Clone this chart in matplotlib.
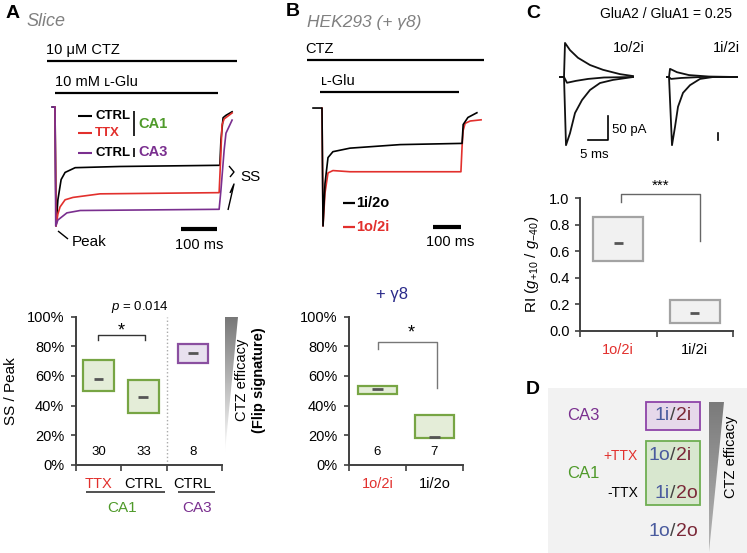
import numpy as np
import matplotlib
matplotlib.use("Agg")
import matplotlib.pyplot as plt
from matplotlib.patches import Polygon, Rectangle

W, H = 747, 553
plt.rcParams['font.family'] = ['Liberation Sans', 'DejaVu Sans']
plt.rcParams['mathtext.fontset'] = 'custom'
plt.rcParams['mathtext.it'] = 'Liberation Sans:italic'
plt.rcParams['mathtext.rm'] = 'Liberation Sans'

RED = '#e2302d'
GREEN = '#4f9a2a'
PURPLE = '#7a2f8f'
GREY_T = '#808080'
AX = '#404040'

# ---------------- data ----------------
# panel A traces: time (ms), current normalised to peak
a_ctrl_t = [-8, 0, 3, 8, 17, 28, 56, 180, 458, 461, 467, 475, 492]
a_ctrl_i = [0, 0, -1.0, -0.78, -0.61, -0.55, -0.51, -0.50, -0.49, -0.28, -0.09, -0.07, -0.04]
a_ttx_t = [0, 3, 8, 14, 28, 50, 125, 456, 460, 464, 470, 492]
a_ttx_i = [0, -1.0, -0.90, -0.84, -0.78, -0.76, -0.73, -0.72, -0.45, -0.15, -0.10, -0.05]
a_ca3_t = [-8, 0, 2, 8, 33, 70, 456, 461, 470, 475, 492]
a_ca3_i = [0, 0, -1.0, -0.95, -0.89, -0.87, -0.86, -0.70, -0.36, -0.22, -0.11]

# panel B traces
b_1i2o_t = [-32, 0, 3.6, 10.7, 21.4, 39, 100, 279, 493, 500, 504, 521, 553]
b_1i2o_i = [0, 0, -1.0, -0.64, -0.42, -0.37, -0.34, -0.31, -0.30, -0.30, -0.14, -0.08, -0.04]
b_1o2i_t = [0, 3.6, 10.7, 21.4, 39, 100, 496, 500, 504, 511, 529, 568]
b_1o2i_i = [0, -1.0, -0.72, -0.55, -0.53, -0.54, -0.54, -0.33, -0.19, -0.13, -0.11, -0.10]

# panel C traces: time (ms), current (pA)
c_l_up_t = [-1, 0, 0.25, 1.5, 3.5, 6.5, 9.75, 14, 17.25]
c_l_up_i = [0, 0, 71, 56, 40, 25, 15, 6, 2]
c_l_dn_t = [-1, 0, 0.5, 1.5, 2.75, 4.5, 6.5, 9, 12.25, 17.25]
c_l_dn_i = [0, 0, -142, -117, -75, -48, -27, -12.5, -6, 0]
c_l_mid_t = [-1, 0, 0.75, 3, 6, 10, 17.25]
c_l_mid_i = [0, 0, -12, -8, -4, -1, 0]
c_r_dn_t = [-0.5, 0, 0.75, 1.5, 2.25, 3.5, 5.25, 7.75, 11, 17]
c_r_dn_i = [0, 0, -142, -104, -62, -33, -17, -4, 0, 0]
c_r_up_t = [-0.5, 0, 0.25, 2, 5, 10, 17]
c_r_up_i = [0, 0, 17, 10, 4, 1, 0]
c_r_mid_t = [-0.5, 0, 0.5, 3, 8, 17]
c_r_mid_i = [0, 0, -4, -2, 0, 0]

# box summaries: low, high, mean
a_cats = ['TTX', 'CTRL', 'CTRL']
a_lo = [49.5, 35, 69]
a_hi = [70.5, 57, 81.5]
a_mean = [58, 46, 75.5]
a_n = [30, 33, 8]
b_cats = ['1o/2i', '1i/2o']
b_lo = [47.5, 18.5]
b_hi = [53.5, 34]
b_mean = [51.5, 19]
b_n = [6, 7]
c_cats = ['1o/2i', '1i/2i']
c_lo = [0.53, 0.063]
c_hi = [0.857, 0.233]
c_mean = [0.66, 0.138]

fig = plt.figure(figsize=(W / 100, H / 100), dpi=100)
ov = fig.add_axes([0, 0, 1, 1])
ov.set_xlim(0, W)
ov.set_ylim(H, 0)
ov.axis('off')


def pax(x0, y0, x1, y1):
    a = fig.add_axes([x0 / W, 1 - y1 / H, (x1 - x0) / W, (y1 - y0) / H])
    a.set_facecolor('none')
    return a


def line(pts, **kw):
    kw.setdefault('color', 'black')
    kw.setdefault('lw', 1.0)
    ov.plot([p[0] for p in pts], [p[1] for p in pts], solid_capstyle='butt', **kw)


def txt(x, y, s, **kw):
    kw.setdefault('ha', 'left')
    kw.setdefault('va', 'center')
    kw.setdefault('fontsize', 10.5)
    ov.text(x, y, s, **kw)


def grad_tri(pts, c0, c1):
    xs = [p[0] for p in pts]
    ys = [p[1] for p in pts]
    g = np.linspace(0, 1, 256)[:, None]
    c0 = np.array(matplotlib.colors.to_rgb(c0))
    c1 = np.array(matplotlib.colors.to_rgb(c1))
    img = c0[None, None, :] * (1 - g[:, :, None]) + c1[None, None, :] * g[:, :, None]
    im = ov.imshow(img, extent=(min(xs), max(xs), max(ys), min(ys)), aspect='auto',
                   interpolation='bilinear', zorder=1)
    poly = Polygon(pts, closed=True, transform=ov.transData, fc='none', ec='none')
    ov.add_patch(poly)
    im.set_clip_path(poly)


# ---------------- panel A ----------------
txt(6, 13, 'A', fontsize=14, fontweight='bold')
txt(26, 21, 'Slice', fontsize=13, style='italic', color=GREY_T)
txt(46, 50, '10 μM CTZ')
line([(47, 61), (237, 61)], lw=1.6)
txt(55, 82, '10 mM ʟ-Glu')
line([(55, 93), (218, 93)], lw=1.6)

ta = pax(45, 100, 240, 235)
ta.plot(a_ctrl_t, a_ctrl_i, color='black', lw=1.2)
ta.plot(a_ttx_t, a_ttx_i, color=RED, lw=1.2)
ta.plot(a_ca3_t, a_ca3_i, color=PURPLE, lw=1.2)
ta.plot([350, 450], [-1.025, -1.025], color='black', lw=3, solid_capstyle='butt')
ta.set_xlim(-27.8, 514)
ta.set_ylim(-1.076, 0.059)
ta.axis('off')

line([(78, 116), (92, 116)], lw=1.5)
txt(95, 116, 'CTRL', fontsize=9.5, fontweight='bold')
line([(78, 133), (92, 133)], lw=1.5, color=RED)
txt(95, 133, 'TTX', fontsize=9.5, fontweight='bold', color=RED)
line([(78, 153), (92, 153)], lw=1.5, color=PURPLE)
txt(95, 153, 'CTRL', fontsize=9.5, fontweight='bold')
line([(134, 111), (134, 136)], lw=1.2)
line([(134, 148), (134, 157)], lw=1.2)
txt(138, 124, 'CA1', fontsize=10.5, fontweight='bold', color=GREEN)
txt(138, 152, 'CA3', fontsize=10.5, fontweight='bold', color=PURPLE)

line([(229, 166), (234, 172), (230, 177)], lw=1.0)
line([(228, 210), (234, 184), (230, 193)], lw=1.0)
txt(240, 177, 'SS', fontsize=11)
line([(58, 231), (68, 239)], lw=1.0)
txt(72, 242, 'Peak', fontsize=11)
txt(199, 245, '100 ms', ha='center')

# A summary
xa = [0.5, 1.5, 2.6]
ba = pax(76, 316.5, 222, 465)
ba.bar(xa, np.subtract(a_hi, a_lo), bottom=a_lo, width=0.68,
       color=['#e4edd8', '#e4edd8', '#e8e1ef'],
       edgecolor=['#77a544', '#77a544', '#8a4fa0'], linewidth=1.6, zorder=2)
ba.hlines(a_mean, np.subtract(xa, 0.11), np.add(xa, 0.11), color='#555555', lw=2, zorder=3)
for x, n in zip(xa, a_n):
    ba.text(x, 9, str(n), ha='center', va='center', fontsize=9.5)
ba.axvline(2.02, ls=':', color='#aaaaaa', lw=1)
ba.plot([0.49, 0.49, 1.53, 1.53], [84, 87.5, 87.5, 84], color='#333333', lw=1)
ba.text(1.0, 90, '*', ha='center', va='center', fontsize=13)
ba.text(1.42, 106.5, r'$p$ = 0.014', ha='center', va='center', fontsize=9.5, clip_on=False)
ba.set_xlim(0, 3.25)
ba.set_ylim(0, 100)

# ---------------- panel B ----------------
txt(286, 12, 'B', fontsize=14, fontweight='bold')
txt(307, 22, 'HEK293 (+ γ8)', fontsize=12.5, style='italic', color=GREY_T)
txt(305, 49, 'CTZ')
line([(307, 60), (484, 60)], lw=1.6)
txt(321, 81, 'ʟ-Glu')
line([(320, 92), (459, 92)], lw=1.6)

tb = pax(305, 100, 490, 235)
tb.plot(b_1o2i_t, b_1o2i_i, color=RED, lw=1.2)
tb.plot(b_1i2o_t, b_1i2o_i, color='black', lw=1.2)
tb.plot([396, 496], [-1.008, -1.008], color='black', lw=3, solid_capstyle='butt')
tb.set_xlim(-60.7, 599.8)
tb.set_ylim(-1.076, 0.068)
tb.axis('off')

line([(343, 203), (355, 203)], lw=1.6)
txt(356, 203, '1i/2o', fontsize=10.5, fontweight='bold')
line([(343, 227), (355, 227)], lw=1.6, color=RED)
txt(356, 227, '1o/2i', fontsize=10.5, fontweight='bold', color=RED)
txt(450, 242, '100 ms', ha='center')
txt(392, 295, '+ γ8', ha='center', fontsize=12, color='#2a2a8a')

xb = [0.5, 1.5]
bb = pax(349, 316.5, 463, 465)
bb.bar(xb, np.subtract(b_hi, b_lo), bottom=b_lo, width=0.67, color='#e4edd8',
       edgecolor='#77a544', linewidth=1.6, zorder=2)
bb.hlines(b_mean, np.subtract(xb, 0.09), np.add(xb, 0.09), color='#555555', lw=2, zorder=3)
for x, n in zip(xb, b_n):
    bb.text(x, 9, str(n), ha='center', va='center', fontsize=9.5)
bb.plot([0.51, 0.51, 1.54, 1.54], [78, 83, 83, 52], color='#777777', lw=1)
bb.text(1.09, 89, '*', ha='center', va='center', fontsize=13)
bb.set_xlim(0, 2)
bb.set_ylim(0, 100)

# ---------------- panel C ----------------
txt(526, 14, 'C', fontsize=14, fontweight='bold')
txt(600, 14, 'GluA2 / GluA1 = 0.25', fontsize=10)
txt(613, 48, '1o/2i', fontsize=10.5)
txt(713, 48, '1i/2i', fontsize=10.5)

tcl = pax(555, 35, 640, 150)
for t, i in [(c_l_up_t, c_l_up_i), (c_l_dn_t, c_l_dn_i), (c_l_mid_t, c_l_mid_i)]:
    tcl.plot(t, i, color='#111111', lw=1.3)
tcl.plot([6, 11, 11], [-131, -131, -81], color='black', lw=1.2)
tcl.set_xlim(-2.25, 19)
tcl.set_ylim(-152, 87.5)
tcl.axis('off')

tcr = pax(662, 35, 742, 150)
for t, i in [(c_r_up_t, c_r_up_i), (c_r_dn_t, c_r_dn_i), (c_r_mid_t, c_r_mid_i)]:
    tcr.plot(t, i, color='#111111', lw=1.3)
tcr.plot([12.25, 12.25], [-131, -117], color='black', lw=1.2)
tcr.set_xlim(-1.75, 18.25)
tcr.set_ylim(-152, 87.5)
tcr.axis('off')
txt(612, 130, '50 pA', fontsize=9.5)
txt(594, 155, '5 ms', fontsize=9.5, ha='center')

xc = [0.5, 1.5]
bc = pax(580, 198, 733, 331)
bc.bar(xc, np.subtract(c_hi, c_lo), bottom=c_lo, width=0.65, color='#f1f1f1',
       edgecolor='#a3a3a3', linewidth=1.6, zorder=2)
bc.hlines(c_mean, np.subtract(xc, 0.06), np.add(xc, 0.06), color='#555555', lw=2, zorder=3)
bc.plot([0.54, 0.54, 1.57, 1.57], [0.97, 1.03, 1.03, 0.68], color='#666666', lw=1,
        clip_on=False)
bc.text(1.05, 1.09, '***', ha='center', va='center', fontsize=11, clip_on=False)
bc.set_xlim(0, 2)
bc.set_ylim(0, 1)
bc.set_ylabel(r'RI ($g_{+10}$ / $g_{-40}$)', fontsize=11, labelpad=6)

# axis styling for the three summaries
for ax, ticks, cats, cents, cols in [
        (ba, [0, 1, 2.02, 3.25], a_cats, xa, [RED, 'black', 'black']),
        (bb, [0, 1, 2], b_cats, xb, [RED, 'black']),
        (bc, [0, 1, 2], c_cats, xc, [RED, 'black'])]:
    for s in ['top', 'right']:
        ax.spines[s].set_visible(False)
    for s in ['left', 'bottom']:
        ax.spines[s].set_color(AX)
        ax.spines[s].set_linewidth(1.4)
    ax.set_xticks(ticks)
    ax.set_xticklabels([])
    ax.set_xticks(cents, labels=cats, minor=True)
    ax.tick_params(axis='x', which='major', length=4, width=1.2, color=AX)
    ax.tick_params(axis='x', which='minor', length=0, pad=9, labelsize=10.5)
    ax.tick_params(axis='y', length=3.5, width=1.2, color=AX, pad=5, labelsize=10.5)
    for lab, c in zip(ax.get_xticklabels(minor=True), cols):
        lab.set_color(c)

for ax in (ba, bb):
    ax.set_yticks([0, 20, 40, 60, 80, 100])
    ax.set_yticklabels(['0%', '20%', '40%', '60%', '80%', '100%'])
bc.set_yticks([0, 0.2, 0.4, 0.6, 0.8, 1.0])
bc.set_yticklabels(['0.0', '0.2', '0.4', '0.6', '0.8', '1.0'])
bc.tick_params(axis='y', pad=4)
ba.set_ylabel('SS / Peak', fontsize=11, labelpad=6)

# A group labels
line([(86, 492), (165, 492)], lw=1.2, color='#333333')
line([(178, 492), (215, 492)], lw=1.2, color='#333333')
txt(122, 508, 'CA1', ha='center', color=GREEN, fontsize=11)
txt(197, 508, 'CA3', ha='center', color=PURPLE, fontsize=11)

# efficacy wedge A
grad_tri([(225, 317), (238, 317), (225, 452)], '#777777', '#ffffff')
txt(242, 380, 'CTZ efficacy', rotation=90, ha='center', fontsize=10.5)
txt(259, 380, '(Flip signature)', rotation=90, ha='center', fontsize=10.5, fontweight='bold')

# ---------------- panel D ----------------
ov.add_patch(Rectangle((548, 388), 199, 165, fc='#f2f2f2', ec='none', zorder=0))
txt(526, 390, 'D', fontsize=14, fontweight='bold')
ov.add_patch(Rectangle((646, 402), 54, 28, fc='#e6d8ea', ec='#8e44a8', lw=1.3, zorder=2))
ov.add_patch(Rectangle((646, 441), 54, 64, fc='#d8e7cf', ec='#6fae52', lw=1.3, zorder=2))
BLU = '#4a5b9e'
DRED = '#7b2838'


def dlabel(y, a, b):
    cx = 673
    txt(cx - 2.9, y, a, ha='right', fontsize=14, color=BLU, zorder=3)
    txt(cx, y, '/', ha='center', fontsize=14, color='#444444', zorder=3)
    txt(cx + 2.9, y, b, ha='left', fontsize=14, color=DRED, zorder=3)


dlabel(416, '1i', '2i')
dlabel(456, '1o', '2i')
dlabel(493, '1i', '2o')
dlabel(532, '1o', '2o')
txt(567, 416, 'CA3', fontsize=12, color=PURPLE)
txt(567, 473, 'CA1', fontsize=12, color=GREEN)
txt(638, 456, '+TTX', fontsize=10, color=RED, ha='right')
txt(638, 493, '-TTX', fontsize=10, ha='right')
grad_tri([(709, 402), (724, 402), (709, 552)], '#7a7a7a', '#b5b5b5')
txt(731, 457, 'CTZ efficacy', rotation=90, ha='center', fontsize=10.5)

ov.set_xlim(0, W)
ov.set_ylim(H, 0)

fig.savefig('out.png', dpi=100)
